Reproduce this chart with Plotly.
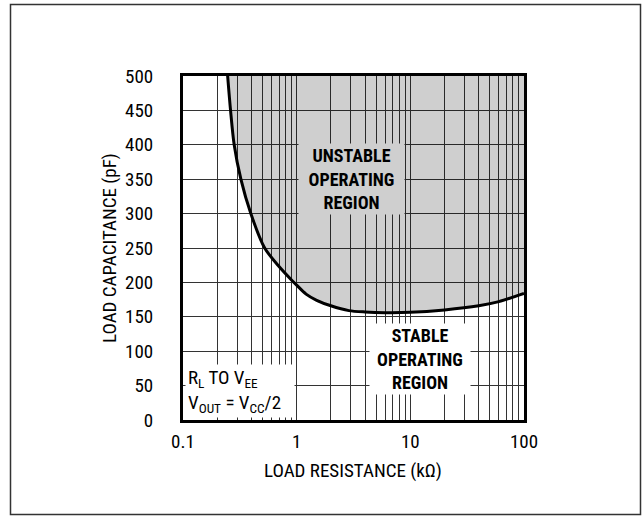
import plotly.graph_objects as go

# data
res_kohm = [0.247, 0.262, 0.282, 0.323, 0.395, 0.523, 0.7, 0.9, 1.0, 1.21, 1.5, 2.0, 2.88, 4.0, 6.0, 10, 20, 40, 60, 100]
cap_pf = [500, 450, 400, 350, 300, 250, 223, 203.5, 196, 183, 174, 166, 159, 157, 156, 156.5, 160, 166, 172, 184]
top_pf = [500] * len(res_kohm)

x_major = [0.1, 1, 10, 100]
x_major_text = ["0.1", "1", "10", "100"]
x_minor = [m * 10 ** e for e in (-1, 0, 1) for m in range(2, 10)]
y_tickvals = list(range(0, 501, 50))

FONT = "Liberation Sans Narrow, Arial Narrow, Roboto Condensed, sans-serif"
FILL = "rgba(0,0,0,0.19)"
FILL_SOLID = "#cfcfcf"
GRID = "#333"

fig = go.Figure()
fig.add_trace(go.Scatter(x=res_kohm, y=top_pf, mode="lines", line=dict(width=0),
                         hoverinfo="skip", showlegend=False))
fig.add_trace(go.Scatter(x=res_kohm, y=cap_pf, mode="lines", fill="tonexty", fillcolor=FILL,
                         line=dict(color="black", width=3, shape="spline", smoothing=0.8),
                         showlegend=False))

fig.update_xaxes(type="log", range=[-1, 2], tickvals=x_major, ticktext=x_major_text,
                 showgrid=True, gridcolor=GRID, gridwidth=1, ticks="",
                 minor=dict(tickvals=x_minor, showgrid=True, gridcolor=GRID, gridwidth=1, ticks=""),
                 showline=True, linecolor="black", linewidth=3, mirror=True,
                 ticklabelstandoff=2, zeroline=False, automargin=False,
                 tickfont=dict(size=19, color="black"))
fig.update_yaxes(range=[0, 500], tickvals=y_tickvals, showgrid=True, gridcolor=GRID, gridwidth=1,
                 ticks="", showline=True, linecolor="black", linewidth=3, mirror=True,
                 ticklabelstandoff=23, zeroline=False, automargin=False,
                 tickfont=dict(size=19, color="black"))

L, T, R, B = 183, 76, 524, 420
W, H = R - L, B - T

# axis titles
fig.add_annotation(xref="paper", yref="paper", x=(353 - L) / W, y=(B - 470) / H,
                   xanchor="center", yanchor="middle", showarrow=False,
                   text="LOAD RESISTANCE (kΩ)", font=dict(size=19, color="black", family=FONT))
fig.add_annotation(xref="paper", yref="paper", x=(109 - L) / W, y=0.5, textangle=-90,
                   xanchor="center", yanchor="middle", showarrow=False,
                   text="LOAD CAPACITANCE (pF)", font=dict(size=19, color="black", family=FONT))

fig.add_annotation(xref="paper", yref="paper", x=0.4956, y=0.7006, xanchor="center", yanchor="middle",
                   showarrow=False,
                   text="<b>UNSTABLE<br>OPERATING<br>REGION</b>", font=dict(size=18, color="black", family=FONT),
                   bgcolor=FILL_SOLID, width=101, height=66, borderpad=2, align="center")
fig.add_annotation(xref="paper", yref="paper", x=0.695, y=0.177, xanchor="center", yanchor="middle",
                   showarrow=False,
                   text="<b>STABLE<br>OPERATING<br>REGION</b>", font=dict(size=18, color="black", family=FONT),
                   bgcolor="white", width=96, height=66, borderpad=2, align="center")
fig.add_annotation(xref="paper", yref="paper", x=0.167, y=0.084, xanchor="center", yanchor="middle",
                   showarrow=False,
                   text="R<sub>L</sub> TO V<sub>EE</sub><br>V<sub>OUT</sub> = V<sub>CC</sub>/2",
                   font=dict(size=19, color="black", family=FONT),
                   bgcolor="white", width=104, height=48, borderpad=2, align="left")

fig.add_shape(type="rect", xref="paper", yref="paper",
              x0=(10.5 - L) / W, x1=(640.5 - L) / W, y0=(B - 514.5) / H, y1=(B - 4.5) / H,
              line=dict(color="#333", width=1.5), layer="below")

fig.update_layout(width=642, height=516, margin=dict(l=L, r=642 - R, t=T, b=516 - B),
                  paper_bgcolor="white", plot_bgcolor="white",
                  font=dict(family=FONT, color="black"))
fig.write_html("out.html", config={"displayModeBar": False},
               post_script="document.body.style.margin='0';document.body.style.overflow='hidden';")
